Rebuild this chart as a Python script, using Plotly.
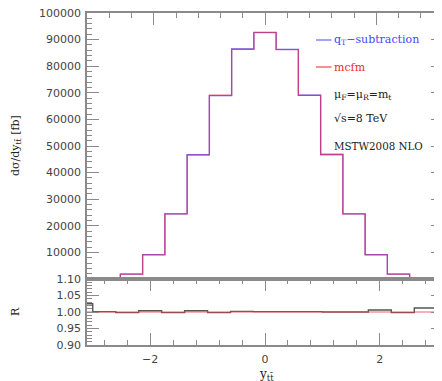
import plotly.graph_objects as go

# ---- data ----
bin_edges = [-3.4, -3.0, -2.6, -2.2, -1.8, -1.4, -1.0, -0.6, -0.2,
             0.2, 0.6, 1.0, 1.4, 1.8, 2.2, 2.6, 3.0, 3.4]
mcfm = [80, 350, 1850, 9100, 24500, 46600, 69100, 86300, 92600,
        86200, 69000, 46800, 24500, 9100, 1850, 350, 80]
qt_subtraction = [82, 350, 1846, 9136, 24450, 46790, 68960, 86470, 92690,
                  86290, 69070, 46800, 24500, 9155, 1846, 354, 81]
ratio_qt = [1.025, 1.001, 0.998, 1.004, 0.998, 1.004, 0.998, 1.002, 1.001,
            1.001, 1.001, 1.000, 1.000, 1.006, 0.998, 1.012, 1.012]
ratio_mcfm = [1.0] * 17
main_yticks = [10000, 20000, 30000, 40000, 50000, 60000, 70000, 80000, 90000, 100000]
ratio_yticks = [0.90, 0.95, 1.00, 1.05, 1.10]

# The page body adds an 8px offset; window-pixel layout is compensated here.
OFF = 8
W, H = 442, 381
X0, X1, Y0, Y1 = 87, 443, 13, 345          # plot area in window pixels
L, T = X0 - OFF, Y0 - OFF
R = W - (X1 - OFF)
B = H - (Y1 - OFF)
pw, ph = X1 - X0, Y1 - Y0
split = (Y1 - 279) / ph


def px(x):
    return (x - X0) / pw


def py(y):
    return (Y1 - y) / ph


def step(vals):
    return list(vals) + [vals[-1]]


fig = go.Figure()
fig.add_trace(go.Scatter(x=bin_edges, y=step(qt_subtraction), mode="lines",
                         line=dict(color="rgb(100,100,255)", width=1.3, shape="hv"),
                         xaxis="x", yaxis="y", showlegend=False))
fig.add_trace(go.Scatter(x=bin_edges, y=step(mcfm), mode="lines",
                         line=dict(color="rgba(235,45,90,0.70)", width=1.3, shape="hv"),
                         xaxis="x", yaxis="y", showlegend=False))
fig.add_trace(go.Scatter(x=bin_edges, y=step(ratio_qt), mode="lines",
                         line=dict(color="rgb(85,85,85)", width=1.4, shape="hv"),
                         xaxis="x2", yaxis="y2", showlegend=False))
fig.add_trace(go.Scatter(x=bin_edges, y=step(ratio_mcfm), mode="lines",
                         line=dict(color="rgba(245,70,70,0.85)", width=1.2, shape="hv"),
                         xaxis="x2", yaxis="y2", showlegend=False))

axcol = "#8a8a8a"
tickfont = dict(family="DejaVu Sans", size=11, color="#444")
common = dict(showgrid=False, zeroline=False, showline=True, linecolor=axcol,
              linewidth=1.5, ticks="inside", tickcolor=axcol, tickwidth=1.2,
              ticklabeloverflow="allow")

fig.update_layout(
    width=W, height=H,
    margin=dict(l=L, r=R, t=T, b=B, autoexpand=False),
    paper_bgcolor="white", plot_bgcolor="white",
    xaxis=dict(domain=[0, 1], anchor="y", side="top", range=[-3.2, 3.2],
               mirror=True, ticklen=12, tick0=0, dtick=2, showticklabels=False,
               minor=dict(ticks="inside", ticklen=5, tick0=0, dtick=0.4,
                          tickcolor=axcol, tickwidth=1),
               **common),
    yaxis=dict(domain=[split, 1], anchor="x", range=[0, 100000],
               mirror="ticks", ticklen=12, tickmode="array",
               tickvals=main_yticks, ticktext=[str(v) for v in main_yticks],
               tickfont=tickfont, ticklabelstandoff=2,
               minor=dict(ticks="inside", ticklen=5, tickmode="linear", tick0=0, dtick=2000,
                          tickcolor=axcol, tickwidth=1),
               **common),
    xaxis2=dict(domain=[0, 1], anchor="y2", range=[-3.1, 3.1],
                mirror="ticks", ticklen=12, tick0=0, dtick=2,
                tickfont=tickfont, ticklabelstandoff=3,
                minor=dict(ticks="inside", ticklen=5, tick0=0, dtick=0.4,
                           tickcolor=axcol, tickwidth=1),
                **common),
    yaxis2=dict(domain=[0, split], anchor="x2", range=[0.9, 1.1],
                mirror="ticks", ticklen=12, tickmode="array",
                tickvals=ratio_yticks, ticktext=["%.2f" % v for v in ratio_yticks],
                tickfont=tickfont, ticklabelstandoff=2,
                minor=dict(ticks="inside", ticklen=5, tickmode="linear", tick0=0.9, dtick=0.01,
                           tickcolor=axcol, tickwidth=1),
                **common),
)

serif = "DejaVu Serif"
ann = []


def text(x, y, s, color="#222", size=11, angle=0, xanchor="left"):
    ann.append(dict(x=px(x), y=py(y), xref="paper", yref="paper", text=s,
                    showarrow=False, xanchor=xanchor, yanchor="middle", borderpad=0,
                    textangle=angle, font=dict(family=serif, size=size, color=color)))


text(333, 40, "q<sub>T</sub>−subtraction", color="rgb(70,70,255)")
text(333, 67, "mcfm", color="rgb(240,40,40)")
text(333, 95, "μ<sub>F</sub>=μ<sub>R</sub>=m<sub>t</sub>")
text(333, 119, "√s=8 TeV")
text(333, 146, "MSTW2008 NLO", size=10.3)
text(16, 146, "dσ/dy<sub>tt̄</sub> [fb]", angle=-90, xanchor="center", size=11)
text(15, 312, "R", angle=-90, xanchor="center", size=11)
text(266, 374.5, "y<sub>tt̄</sub>", xanchor="center", size=12)
fig.update_layout(annotations=ann)

shapes = [
    dict(type="line", xref="paper", yref="paper", x0=px(316), x1=px(331.5),
         y0=py(40), y1=py(40), line=dict(color="rgb(100,100,255)", width=1.2)),
    dict(type="line", xref="paper", yref="paper", x0=px(316), x1=px(331.5),
         y0=py(67), y1=py(67), line=dict(color="rgb(240,70,70)", width=1.2)),
]
fig.update_layout(shapes=shapes)

fig.write_html("out.html")
